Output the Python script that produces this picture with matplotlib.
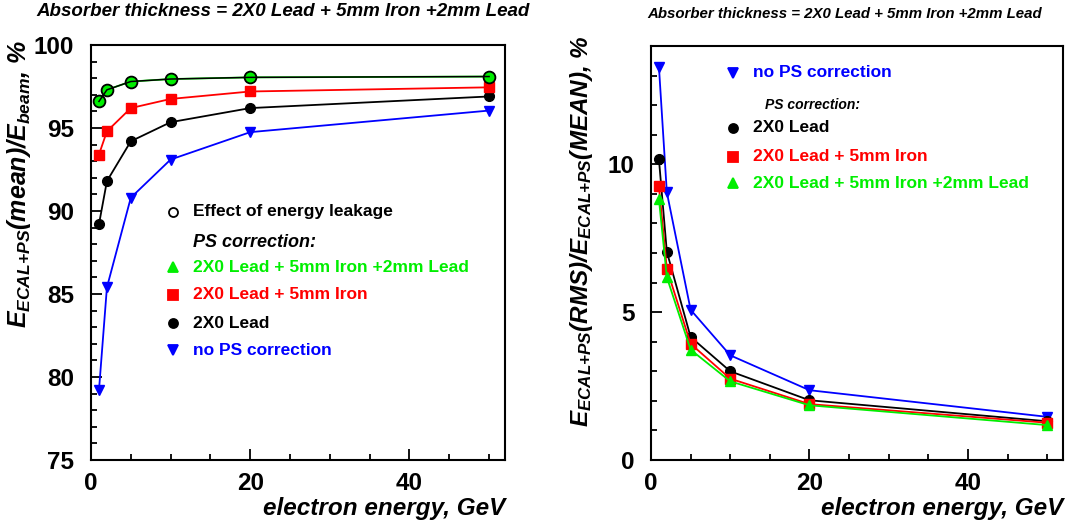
import matplotlib
matplotlib.use("Agg")
import matplotlib.pyplot as plt
from matplotlib.ticker import MultipleLocator

plt.rcParams['font.family'] = 'Liberation Sans'
plt.rcParams['mathtext.fontset'] = 'custom'
plt.rcParams['mathtext.rm'] = 'Liberation Sans:bold:italic'
plt.rcParams['mathtext.it'] = 'Liberation Sans:bold:italic'
plt.rcParams['mathtext.bf'] = 'Liberation Sans:bold:italic'

energy = [1, 2, 5, 10, 20, 50]

# mean response, %
leakage = [96.6, 97.3, 97.8, 97.95, 98.05, 98.1]
mean_pb_fe_pb = [96.6, 97.3, 97.8, 97.95, 98.05, 98.1]
mean_pb_fe = [93.4, 94.8, 96.2, 96.75, 97.2, 97.45]
mean_pb = [89.2, 91.8, 94.2, 95.35, 96.2, 96.9]
mean_nocorr = [79.2, 85.4, 90.8, 93.1, 94.75, 96.05]

# resolution RMS/MEAN, %
res_nocorr = [13.3, 9.05, 5.08, 3.54, 2.36, 1.46]
res_pb = [10.17, 7.04, 4.16, 3.0, 2.02, 1.31]
res_pb_fe = [9.25, 6.46, 3.93, 2.75, 1.89, 1.26]
res_pb_fe_pb = [8.82, 6.18, 3.73, 2.66, 1.85, 1.18]

title = "Absorber thickness = 2X0 Lead + 5mm Iron +2mm Lead"
lab_nocorr = "no PS correction"
lab_pb = "2X0 Lead"
lab_pb_fe = "2X0 Lead + 5mm Iron"
lab_pb_fe_pb = "2X0 Lead + 5mm Iron +2mm Lead"
lab_leak = "Effect of energy leakage"

BLUE = '#0000ff'
RED = '#ff0000'
GREEN = '#00ee00'
BLACK = 'black'

fig = plt.figure(figsize=(10.7, 5.27), dpi=100)
ax1 = fig.add_axes([91/1070, 67/527, 414/1070, 415/527])
ax2 = fig.add_axes([651/1070, 67/527, 412/1070, 414/527])


def style_axes(ax, ymaj, ymin):
    ax.set_xlim(0, 52)
    ax.xaxis.set_major_locator(MultipleLocator(20))
    ax.xaxis.set_minor_locator(MultipleLocator(5))
    ax.yaxis.set_major_locator(MultipleLocator(ymaj))
    ax.yaxis.set_minor_locator(MultipleLocator(ymin))
    ax.tick_params(which='both', direction='in', top=False, right=False, width=1.3)
    ax.tick_params(which='major', length=8)
    ax.tick_params(which='minor', length=4)
    ax.tick_params(axis='x', which='major', labelsize=17.5, pad=9)
    ax.tick_params(axis='y', which='major', labelsize=17.5, pad=12)
    for lab in ax.get_xticklabels() + ax.get_yticklabels():
        lab.set_fontweight('bold')
    for s in ax.spines.values():
        s.set_linewidth(1.5)
    ax.set_xlabel("electron energy, GeV", fontsize=17.5, fontweight='bold',
                  fontstyle='italic', loc='right', labelpad=1)


# left: mean response
ax1.set_ylim(75, 100)
ax1.plot(energy, mean_nocorr, color=BLUE, lw=1.3, marker='v', ms=7)
ax1.plot(energy, mean_pb, color=BLACK, lw=1.3, marker='o', ms=7)
ax1.plot(energy, mean_pb_fe, color=RED, lw=1.3, marker='s', ms=7)
ax1.plot(energy, mean_pb_fe_pb, color=GREEN, lw=1.3, marker='o', ms=8)
ax1.plot(energy, leakage, color=BLACK, lw=1.1, marker='o', ms=8.5,
         mfc='none', mec=BLACK, mew=1.3)
style_axes(ax1, 5, 1)
ax1.set_ylabel(r"$E_{ECAL{+}PS}(mean)/E_{beam}$, %", fontsize=18,
               fontweight='bold', fontstyle='italic', loc='top')
ax1.yaxis.set_label_coords(-0.14, 1.012, transform=ax1.transAxes)
ax1.yaxis.label.set_horizontalalignment('right')

# right: resolution
ax2.set_ylim(0, 14)
ax2.plot(energy, res_nocorr, color=BLUE, lw=1.3, marker='v', ms=7)
ax2.plot(energy, res_pb, color=BLACK, lw=1.3, marker='o', ms=7)
ax2.plot(energy, res_pb_fe, color=RED, lw=1.3, marker='s', ms=7)
ax2.plot(energy, res_pb_fe_pb, color=GREEN, lw=1.3, marker='^', ms=7)
style_axes(ax2, 5, 1)
ax2.set_ylabel(r"$E_{ECAL{+}PS}(RMS)/E_{ECAL{+}PS}(MEAN)$, %", fontsize=17.5,
               fontweight='bold', fontstyle='italic', loc='top')
ax2.yaxis.set_label_coords(-0.136, 1.027, transform=ax2.transAxes)
ax2.yaxis.label.set_horizontalalignment('right')


def legend_rows(ax, rows, xm, xt):
    for y, mk, mfc, color, text, dx, size, italic in rows:
        if mk:
            ax.plot([xm], [y], marker=mk, ms=6.5, color=color, mfc=mfc, mec=color,
                    mew=1.3, transform=ax.transAxes, clip_on=False)
        ax.text(xt + dx, y, text, color=color, fontsize=size, fontweight='bold',
                fontstyle='italic' if italic else 'normal',
                transform=ax.transAxes, ha='left', va='center')


legend_rows(ax1, [
    (0.598, 'o', 'none', BLACK, lab_leak, 0, 12.5, False),
    (0.525, None, None, BLACK, "PS correction:", 0, 13, True),
    (0.465, '^', GREEN, GREEN, lab_pb_fe_pb, 0, 12.5, False),
    (0.398, 's', RED, RED, lab_pb_fe, 0, 12.5, False),
    (0.330, 'o', BLACK, BLACK, lab_pb, 0, 12.5, False),
    (0.265, 'v', BLUE, BLUE, lab_nocorr, 0, 12.5, False),
], 0.198, 0.246)

legend_rows(ax2, [
    (0.935, 'v', BLUE, BLUE, lab_nocorr, 0, 12.5, False),
    (0.857, None, None, BLACK, "PS correction:", 0.029, 10, True),
    (0.802, 'o', BLACK, BLACK, lab_pb, 0, 12.5, False),
    (0.732, 's', RED, RED, lab_pb_fe, 0, 12.5, False),
    (0.669, '^', GREEN, GREEN, lab_pb_fe_pb, 0, 12.5, False),
], 0.199, 0.248)

fig.text(36/1070, 1 - 12/527, title, fontsize=13.5, fontweight='bold',
         fontstyle='italic', ha='left', va='center')
fig.text(647/1070, 1 - 14/527, title, fontsize=10.8, fontweight='bold',
         fontstyle='italic', ha='left', va='center')

fig.savefig("out.png", dpi=100)
